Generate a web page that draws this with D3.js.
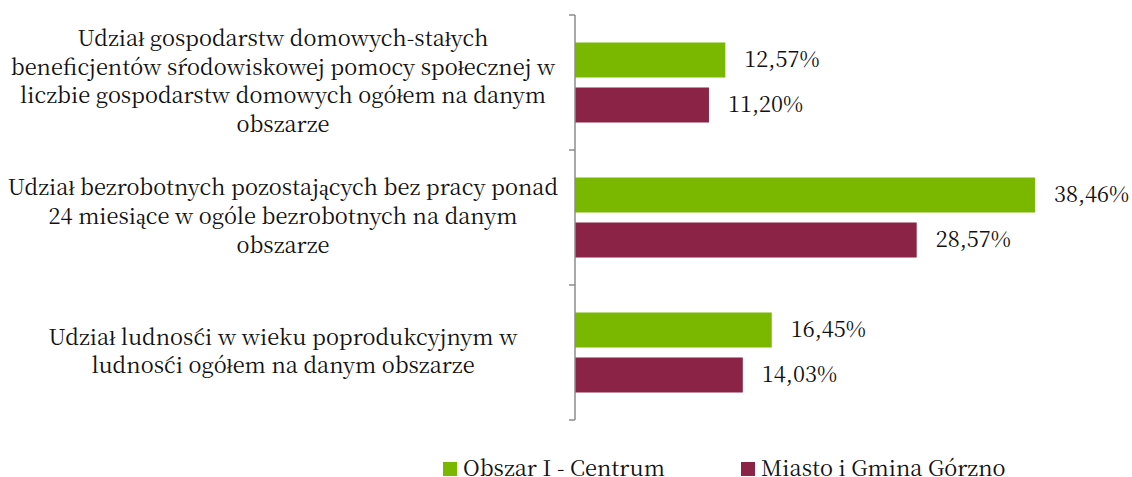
<!DOCTYPE html>
<html>
<head>
<meta charset="utf-8">
<script src="https://cdn.jsdelivr.net/npm/d3@7"></script>
<style>
  body { margin: 0; background: #fff; }
</style>
</head>
<body>
<div id="chart"></div>
<script>
// Data
const categories = [
    "Udział gospodarstw domowych-stałych\nbeneficjentów środowiskowej pomocy społecznej w\nliczbie gospodarstw domowych ogółem na danym\nobszarze",
    "Udział bezrobotnych pozostających bez pracy ponad\n24 miesiące w ogóle bezrobotnych na danym\nobszarze",
    "Udział ludności w wieku poprodukcyjnym w\nludności ogółem na danym obszarze"
];
const seriesNames = ["Obszar I - Centrum", "Miasto i Gmina Górzno"];
const centrum = [0.1257, 0.3846, 0.1645];
const gorzno = [0.1120, 0.2857, 0.1403];
const colors = ["#7ab800", "#8a2346"];

function init() {
    const width = 1132;
    const height = 477;
    const left = 575;
    const fontSize = 21.8;

    const svg = d3.select("#chart")
        .append("svg")
        .attr("width", width)
        .attr("height", height)
        .attr("font-family", "Noto Serif CJK SC")
        .attr("fill", "#111");

    // Scales
    const x = d3.scaleLinear()
        .domain([0, 0.45])
        .range([left, left + 0.45 * 1196]);

    const y = d3.scaleBand()
        .domain(categories)
        .range([15, 420]);

    const inner = d3.scaleBand()
        .domain(seriesNames)
        .range([0, y.bandwidth()])
        .paddingInner(0.222)
        .paddingOuter(0.611);

    const fmt = v => d3.format(".2f")(v * 100).replace(".", ",") + "%";

    // Bars
    const groups = svg.selectAll("g.cat")
        .data(categories.map((c, i) => ({ cat: c, vals: [centrum[i], gorzno[i]] })))
        .enter()
        .append("g")
        .attr("class", "cat")
        .attr("transform", d => `translate(0,${y(d.cat)})`);

    groups.selectAll("rect")
        .data(d => d.vals.map((v, j) => ({ v, s: seriesNames[j], j })))
        .enter()
        .append("rect")
        .attr("x", x(0))
        .attr("y", d => inner(d.s))
        .attr("width", d => x(d.v) - x(0))
        .attr("height", inner.bandwidth())
        .attr("fill", d => colors[d.j]);

    groups.selectAll("text.val")
        .data(d => d.vals.map((v, j) => ({ v, s: seriesNames[j], j })))
        .enter()
        .append("text")
        .attr("class", "val")
        .attr("x", d => x(d.v) + 19)
        .attr("y", d => inner(d.s) + inner.bandwidth() / 2)
        .attr("dy", "0.3em")
        .attr("font-size", fontSize)
        .text(d => fmt(d.v));

    // Axis (no labels, ticks at category boundaries)
    svg.append("line")
        .attr("x1", left).attr("x2", left)
        .attr("y1", y.range()[0]).attr("y2", y.range()[1])
        .attr("stroke", "#8c8c8c")
        .attr("stroke-width", 1.5);

    const bounds = categories.map(c => y(c)).concat([y.range()[1]]);
    svg.selectAll("line.tick")
        .data(bounds)
        .enter()
        .append("line")
        .attr("class", "tick")
        .attr("x1", left - 6).attr("x2", left)
        .attr("y1", d => d).attr("y2", d => d)
        .attr("stroke", "#8c8c8c")
        .attr("stroke-width", 1.5);

    // Category labels
    const lineH = 28.7;
    svg.selectAll("text.cat")
        .data(categories)
        .enter()
        .append("text")
        .attr("class", "cat")
        .attr("text-anchor", "middle")
        .attr("font-size", fontSize)
        .each(function (d) {
            const lines = d.split("\n");
            const cy = y(d) + y.bandwidth() / 2;
            const y0 = cy - (lines.length - 1) * lineH / 2;
            d3.select(this).selectAll("tspan")
                .data(lines)
                .enter()
                .append("tspan")
                .attr("x", 283)
                .attr("y", (l, k) => y0 + k * lineH)
                .attr("dy", "0.3em")
                .text(l => l);
        });

    // Legend
    const legendX = [443, 741];
    const legend = svg.selectAll("g.legend")
        .data(seriesNames)
        .enter()
        .append("g")
        .attr("class", "legend")
        .attr("transform", (d, i) => `translate(${legendX[i]},462)`);

    legend.append("rect")
        .attr("width", 14)
        .attr("height", 14)
        .attr("fill", (d, i) => colors[i]);

    legend.append("text")
        .attr("x", 20)
        .attr("y", 7)
        .attr("dy", "0.3em")
        .attr("font-size", fontSize)
        .text(d => d);
}

window.onload = init;
</script>
</body>
</html>
